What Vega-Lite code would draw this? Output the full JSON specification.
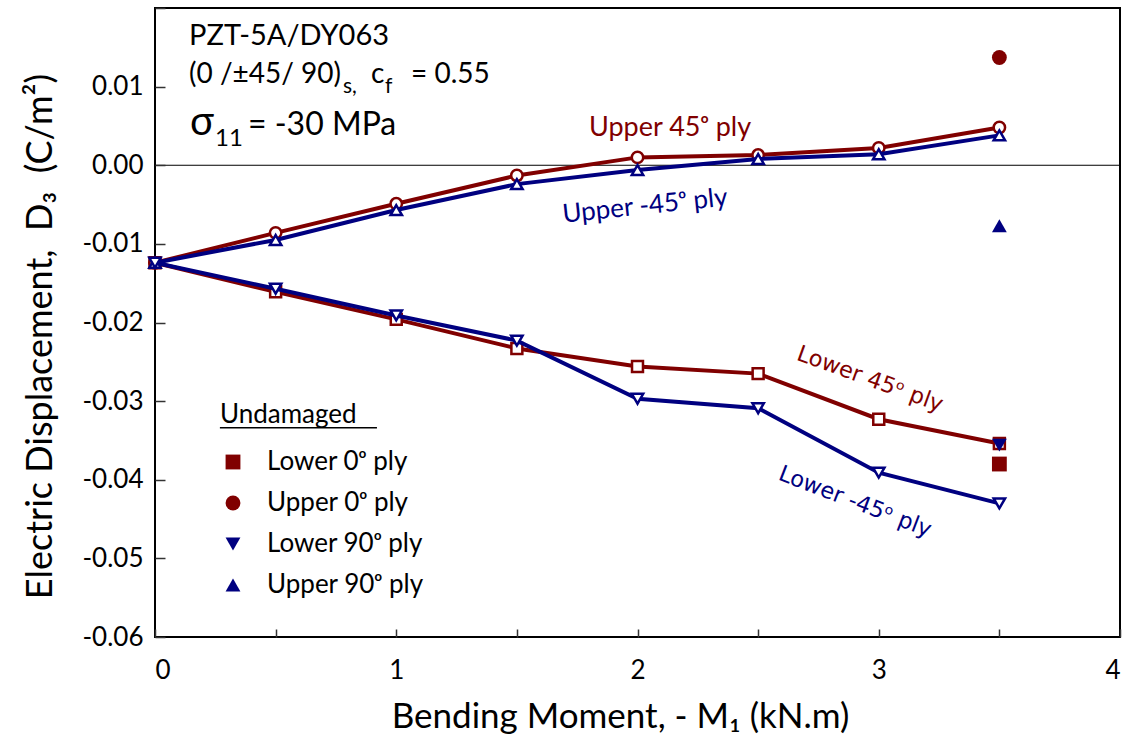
{
  "$schema": "https://vega.github.io/schema/vega-lite/v6.json",
  "width": 965,
  "height": 629,
  "autosize": {"type": "none"},
  "padding": {"left": 155, "top": 8, "right": 13, "bottom": 107},
  "background": "white",
  "config": {
    "view": {"stroke": "black", "strokeWidth": 2},
    "font": "Lato",
    "axis": {
      "grid": false,
      "domain": false,
      "labelFont": "Lato",
      "labelFontSize": 26,
      "labelColor": "black",
      "titleFont": "Lato",
      "titleFontWeight": "normal",
      "titleColor": "black"
    }
  },
  "datasets": {
    "plies": [
      {"M": 0.0, "D": -0.0124, "ply": "Upper 45"},
      {"M": 0.5, "D": -0.0086, "ply": "Upper 45"},
      {"M": 1.0, "D": -0.0049, "ply": "Upper 45"},
      {"M": 1.5, "D": -0.0013, "ply": "Upper 45"},
      {"M": 2.0, "D": 0.0010, "ply": "Upper 45"},
      {"M": 2.5, "D": 0.0013, "ply": "Upper 45"},
      {"M": 3.0, "D": 0.0022, "ply": "Upper 45"},
      {"M": 3.5, "D": 0.0048, "ply": "Upper 45"},
      {"M": 0.0, "D": -0.0124, "ply": "Lower 45"},
      {"M": 0.5, "D": -0.0161, "ply": "Lower 45"},
      {"M": 1.0, "D": -0.0196, "ply": "Lower 45"},
      {"M": 1.5, "D": -0.0233, "ply": "Lower 45"},
      {"M": 2.0, "D": -0.0256, "ply": "Lower 45"},
      {"M": 2.5, "D": -0.0265, "ply": "Lower 45"},
      {"M": 3.0, "D": -0.0323, "ply": "Lower 45"},
      {"M": 3.5, "D": -0.0354, "ply": "Lower 45"},
      {"M": 0.0, "D": -0.0124, "ply": "Upper -45"},
      {"M": 0.5, "D": -0.0095, "ply": "Upper -45"},
      {"M": 1.0, "D": -0.0057, "ply": "Upper -45"},
      {"M": 1.5, "D": -0.0024, "ply": "Upper -45"},
      {"M": 2.0, "D": -0.0006, "ply": "Upper -45"},
      {"M": 2.5, "D": 0.0008, "ply": "Upper -45"},
      {"M": 3.0, "D": 0.0014, "ply": "Upper -45"},
      {"M": 3.5, "D": 0.0038, "ply": "Upper -45"},
      {"M": 0.0, "D": -0.0124, "ply": "Lower -45"},
      {"M": 0.5, "D": -0.0157, "ply": "Lower -45"},
      {"M": 1.0, "D": -0.0191, "ply": "Lower -45"},
      {"M": 1.5, "D": -0.0223, "ply": "Lower -45"},
      {"M": 2.0, "D": -0.0297, "ply": "Lower -45"},
      {"M": 2.5, "D": -0.0309, "ply": "Lower -45"},
      {"M": 3.0, "D": -0.0391, "ply": "Lower -45"},
      {"M": 3.5, "D": -0.0430, "ply": "Lower -45"}
    ],
    "undamaged": [
      {"M": 3.5, "D": -0.0380, "ply": "Lower 0ᵒ ply"},
      {"M": 3.5, "D": 0.0137, "ply": "Upper 0ᵒ ply"},
      {"M": 3.5, "D": -0.0356, "ply": "Lower 90ᵒ ply"},
      {"M": 3.5, "D": -0.0077, "ply": "Upper 90ᵒ ply"}
    ]
  },
  "layer": [
    {
      "data": {"values": [{"D": 0}]},
      "mark": {"type": "rule", "color": "black", "strokeWidth": 1},
      "encoding": {"y": {"field": "D", "type": "quantitative"}}
    },
    {
      "data": {"name": "plies"},
      "transform": [{"filter": "datum.ply === 'Upper 45' || datum.ply === 'Lower 45'"}],
      "mark": {"type": "line", "color": "#800000", "strokeWidth": 4},
      "encoding": {
        "x": {
          "field": "M", "type": "quantitative",
          "scale": {"domain": [0, 4], "nice": false, "zero": false},
          "axis": {
            "title": "Bending Moment, - M₁ (kN.m)",
            "titleFontSize": 35,
            "titleX": 465,
            "values": [0, 0.5, 1, 1.5, 2, 2.5, 3, 3.5, 4],
            "labelExpr": "datum.value % 1 === 0 ? format(datum.value, 'd') : ''",
            "offset": -8,
            "ticks": true,
            "tickSize": 8,
            "tickWidth": 1.5,
            "tickColor": "#333333",
            "zindex": 2,
            "labelPadding": 20,
            "titlePadding": 16
          }
        },
        "y": {
          "field": "D", "type": "quantitative",
          "scale": {"domain": [-0.06, 0.02], "nice": false, "zero": false},
          "axis": {
            "title": "Electric Displacement,\u00a0\u00a0D₃\u00a0\u00a0(C/m²)",
            "titleFontSize": 36,
            "titleY": 328,
            "values": [-0.06, -0.055, -0.05, -0.045, -0.04, -0.035, -0.03, -0.025, -0.02, -0.015, -0.01, -0.005, 0, 0.005, 0.01, 0.015, 0.02],
            "labelExpr": "(abs(round(datum.value * 1000)) % 10 === 0 && datum.value < 0.015) ? replace(format(datum.value, '.2f'), '−', '-') : ''",
            "offset": -10,
            "ticks": true,
            "tickSize": 10,
            "tickWidth": 1.5,
            "tickColor": "#333333",
            "zindex": 2,
            "labelPadding": 12,
            "titlePadding": 22
          }
        },
        "detail": {"field": "ply"}
      }
    },
    {
      "data": {"name": "plies"},
      "transform": [{"filter": "datum.ply === 'Upper 45'"}],
      "mark": {"type": "point", "shape": "circle", "filled": true, "fill": "white", "stroke": "#800000", "strokeWidth": 2.5, "size": 130, "opacity": 1},
      "encoding": {"x": {"field": "M", "type": "quantitative"}, "y": {"field": "D", "type": "quantitative"}}
    },
    {
      "data": {"name": "plies"},
      "transform": [{"filter": "datum.ply === 'Lower 45'"}],
      "mark": {"type": "point", "shape": "square", "filled": true, "fill": "white", "stroke": "#800000", "strokeWidth": 2.5, "size": 120, "opacity": 1},
      "encoding": {"x": {"field": "M", "type": "quantitative"}, "y": {"field": "D", "type": "quantitative"}}
    },
    {
      "data": {"name": "plies"},
      "transform": [{"filter": "datum.ply === 'Upper -45' || datum.ply === 'Lower -45'"}],
      "mark": {"type": "line", "color": "#000080", "strokeWidth": 4},
      "encoding": {"x": {"field": "M", "type": "quantitative"}, "y": {"field": "D", "type": "quantitative"}, "detail": {"field": "ply"}}
    },
    {
      "data": {"name": "plies"},
      "transform": [{"filter": "datum.ply === 'Upper -45'"}],
      "mark": {"type": "point", "shape": "triangle-up", "filled": true, "fill": "white", "stroke": "#000080", "strokeWidth": 2.5, "size": 130, "opacity": 1},
      "encoding": {"x": {"field": "M", "type": "quantitative"}, "y": {"field": "D", "type": "quantitative"}}
    },
    {
      "data": {"name": "plies"},
      "transform": [{"filter": "datum.ply === 'Lower -45'"}],
      "mark": {"type": "point", "shape": "triangle-down", "filled": true, "fill": "white", "stroke": "#000080", "strokeWidth": 2.5, "size": 130, "opacity": 1},
      "encoding": {"x": {"field": "M", "type": "quantitative"}, "y": {"field": "D", "type": "quantitative"}}
    },
    {
      "data": {"name": "undamaged"},
      "mark": {"type": "point", "filled": true, "size": 220, "opacity": 1, "strokeWidth": 0},
      "encoding": {
        "x": {"field": "M", "type": "quantitative"},
        "y": {"field": "D", "type": "quantitative"},
        "color": {
          "field": "ply", "type": "nominal",
          "scale": {"domain": ["Lower 0ᵒ ply", "Upper 0ᵒ ply", "Lower 90ᵒ ply", "Upper 90ᵒ ply"], "range": ["#800000", "#800000", "#000080", "#000080"]},
          "legend": {
            "title": "Undamaged",
            "orient": "none",
            "legendX": 65,
            "legendY": 394,
            "padding": 0,
            "titleFont": "Lato",
            "titleFontSize": 26,
            "titleFontWeight": "normal",
            "titleColor": "black",
            "titlePadding": 21,
            "labelFont": "Lato",
            "labelFontSize": 26,
            "labelColor": "black",
            "labelOffset": 21,
            "symbolSize": 220,
            "symbolStrokeWidth": 0,
            "rowPadding": 15
          }
        },
        "shape": {
          "field": "ply", "type": "nominal",
          "scale": {"domain": ["Lower 0ᵒ ply", "Upper 0ᵒ ply", "Lower 90ᵒ ply", "Upper 90ᵒ ply"], "range": ["square", "circle", "triangle-down", "triangle-up"]}
        }
      }
    },
    {
      "data": {"values": [{"M0": 0.269, "M1": 0.92, "D": -0.0334}]},
      "mark": {"type": "rule", "color": "black", "strokeWidth": 1.5},
      "encoding": {"x": {"field": "M0", "type": "quantitative"}, "x2": {"field": "M1"}, "y": {"field": "D", "type": "quantitative"}}
    },
    {
      "data": {"values": [{"M": 2.135, "D": 0.0047, "t": "Upper 45ᵒ ply"}]},
      "mark": {"type": "text", "font": "Lato", "fontSize": 27, "color": "#800000", "align": "center", "baseline": "middle"},
      "encoding": {"x": {"field": "M", "type": "quantitative"}, "y": {"field": "D", "type": "quantitative"}, "text": {"field": "t"}}
    },
    {
      "data": {"values": [{"M": 2.031, "D": -0.0052, "t": "Upper -45ᵒ ply"}]},
      "mark": {"type": "text", "font": "Lato", "fontSize": 26, "color": "#000080", "align": "center", "baseline": "middle", "angle": 354},
      "encoding": {"x": {"field": "M", "type": "quantitative"}, "y": {"field": "D", "type": "quantitative"}, "text": {"field": "t"}}
    },
    {
      "data": {"values": [{"M": 2.964, "D": -0.0272, "t": "Lower 45ᵒ ply"}]},
      "mark": {"type": "text", "font": "DejaVu Sans", "fontSize": 22.5, "color": "#800000", "align": "center", "baseline": "middle", "angle": 20},
      "encoding": {"x": {"field": "M", "type": "quantitative"}, "y": {"field": "D", "type": "quantitative"}, "text": {"field": "t"}}
    },
    {
      "data": {"values": [{"M": 2.902, "D": -0.0428, "t": "Lower -45ᵒ ply"}]},
      "mark": {"type": "text", "font": "DejaVu Sans", "fontSize": 22.5, "color": "#000080", "align": "center", "baseline": "middle", "angle": 21},
      "encoding": {"x": {"field": "M", "type": "quantitative"}, "y": {"field": "D", "type": "quantitative"}, "text": {"field": "t"}}
    },
    {
      "data": {"values": [{"M": 0.141, "D": 0.0153, "t": "PZT-5A/DY063"}]},
      "mark": {"type": "text", "font": "Lato", "fontSize": 29, "color": "black", "align": "left", "baseline": "alphabetic"},
      "encoding": {"x": {"field": "M", "type": "quantitative"}, "y": {"field": "D", "type": "quantitative"}, "text": {"field": "t"}}
    },
    {
      "data": {"values": [{"M": 0.141, "D": 0.0104, "t": "(0 /±45/ 90)"}]},
      "mark": {"type": "text", "font": "Lato", "fontSize": 28, "color": "black", "align": "left", "baseline": "alphabetic"},
      "encoding": {"x": {"field": "M", "type": "quantitative"}, "y": {"field": "D", "type": "quantitative"}, "text": {"field": "t"}}
    },
    {
      "data": {"values": [{"M": 0.141, "D": 0.0104, "t": "s,"}]},
      "mark": {"type": "text", "font": "Lato", "fontSize": 21, "color": "black", "align": "left", "baseline": "alphabetic", "dx": 154, "dy": 10},
      "encoding": {"x": {"field": "M", "type": "quantitative"}, "y": {"field": "D", "type": "quantitative"}, "text": {"field": "t"}}
    },
    {
      "data": {"values": [{"M": 0.141, "D": 0.0104, "t": "c"}]},
      "mark": {"type": "text", "font": "Lato", "fontSize": 28, "color": "black", "align": "left", "baseline": "alphabetic", "dx": 182},
      "encoding": {"x": {"field": "M", "type": "quantitative"}, "y": {"field": "D", "type": "quantitative"}, "text": {"field": "t"}}
    },
    {
      "data": {"values": [{"M": 0.141, "D": 0.0104, "t": "f"}]},
      "mark": {"type": "text", "font": "Lato", "fontSize": 21, "color": "black", "align": "left", "baseline": "alphabetic", "dx": 196, "dy": 10},
      "encoding": {"x": {"field": "M", "type": "quantitative"}, "y": {"field": "D", "type": "quantitative"}, "text": {"field": "t"}}
    },
    {
      "data": {"values": [{"M": 0.141, "D": 0.0104, "t": "= 0.55"}]},
      "mark": {"type": "text", "font": "Lato", "fontSize": 28, "color": "black", "align": "left", "baseline": "alphabetic", "dx": 222},
      "encoding": {"x": {"field": "M", "type": "quantitative"}, "y": {"field": "D", "type": "quantitative"}, "text": {"field": "t"}}
    },
    {
      "data": {"values": [{"M": 0.145, "D": 0.0038, "t": "σ"}]},
      "mark": {"type": "text", "font": "Lato", "fontSize": 40, "color": "black", "align": "left", "baseline": "alphabetic"},
      "encoding": {"x": {"field": "M", "type": "quantitative"}, "y": {"field": "D", "type": "quantitative"}, "text": {"field": "t"}}
    },
    {
      "data": {"values": [{"M": 0.145, "D": 0.0038, "t": "11"}]},
      "mark": {"type": "text", "font": "Lato", "fontSize": 24, "color": "black", "align": "left", "baseline": "alphabetic", "dx": 25, "dy": 11},
      "encoding": {"x": {"field": "M", "type": "quantitative"}, "y": {"field": "D", "type": "quantitative"}, "text": {"field": "t"}}
    },
    {
      "data": {"values": [{"M": 0.145, "D": 0.0038, "t": "= -30 MPa"}]},
      "mark": {"type": "text", "font": "Lato", "fontSize": 32, "color": "black", "align": "left", "baseline": "alphabetic", "dx": 58},
      "encoding": {"x": {"field": "M", "type": "quantitative"}, "y": {"field": "D", "type": "quantitative"}, "text": {"field": "t"}}
    }
  ]
}
